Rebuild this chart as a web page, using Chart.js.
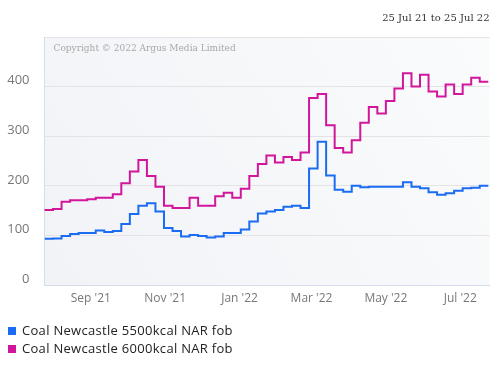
<!DOCTYPE html>
<html>
<head>
<meta charset="utf-8">
<script src="https://cdn.jsdelivr.net/npm/chart.js@4"></script>
<style>
  html, body { margin: 0; padding: 0; background: #fff; }
  #wrap { position: relative; width: 500px; height: 377px; }
</style>
</head>
<body>
<div id="wrap"><canvas id="chart"></canvas></div>
<script>
const rangeLabel = "25 Jul 21 to 25 Jul 22";
const copyrightText = "Copyright \u00a9 2022 Argus Media Limited";
const seriesNames = ["Coal Newcastle 5500kcal NAR fob", "Coal Newcastle 6000kcal NAR fob"];
const seriesColors = ["#1a6cf2", "#d1169b"];

// weekly assessments starting 25 Jul 2021 ($/t)
const nar5500 = [93, 93, 94, 99, 103, 105, 105, 110, 107, 109, 123, 143, 160, 165, 148, 115, 109, 98,
  101, 99, 96, 98, 105, 105, 112, 128, 144, 148, 151, 158, 160, 155, 235, 289, 221, 192, 188, 200,
  197, 198, 198, 198, 198, 207, 198, 195, 187, 182, 185, 190, 195, 196, 200];
const nar6000 = [150, 151, 153, 168, 171, 171, 173, 176, 176, 183, 205, 229, 252, 220, 198, 160, 155, 155,
  176, 160, 160, 179, 186, 176, 194, 220, 244, 261, 247, 258, 252, 267, 377, 385, 322, 276, 267, 292,
  327, 359, 346, 371, 396, 427, 400, 424, 390, 380, 404, 385, 404, 418, 410];

const startDate = "2021-07-25";
const endDate = "2022-07-25";
const xTickDates = ["2021-09-01", "2021-11-01", "2022-01-01", "2022-03-01", "2022-05-01", "2022-07-01"];
const xTickLabels = ["Sep '21", "Nov '21", "Jan '22", "Mar '22", "May '22", "Jul '22"];
const yTickValues = [0, 100, 200, 300, 400, 500];
const yTickLabels = ["0", "100", "200", "300", "400", ""];

const DAY = 86400000;
const dayOf = (s) => Math.round((Date.parse(s) - Date.parse(startDate)) / DAY);
const weekDays = nar5500.map((_, i) => i * 7);
const xTickDays = xTickDates.map(dayOf);

const toPoints = (vals) => vals.map((v, i) => ({ x: weekDays[i], y: v }));

const sans = "'Open Sans', sans-serif";
const serif = "'DejaVu Serif', serif";

const decor = {
  id: "decor",
  beforeDraw(chart) {
    const { ctx, chartArea: a } = chart;
    const g = ctx.createLinearGradient(a.left, a.bottom, a.right, a.top);
    g.addColorStop(0, "#f2f3f7");
    g.addColorStop(1, "#fafbfc");
    ctx.save();
    ctx.fillStyle = g;
    ctx.fillRect(a.left, a.top, a.right - a.left, a.bottom - a.top);
    ctx.restore();
  },
  beforeDatasetsDraw(chart) {
    const { ctx, chartArea: a } = chart;
    ctx.save();
    ctx.font = "9px " + serif;
    ctx.fillStyle = "#a8a8a8";
    ctx.textBaseline = "middle";
    ctx.fillText(copyrightText, a.left + 9, a.top + 12);
    ctx.restore();
  },
  afterDraw(chart) {
    const { ctx, chartArea: a } = chart;
    ctx.save();
    ctx.font = "10px " + serif;
    ctx.fillStyle = "#333";
    ctx.textAlign = "right";
    ctx.textBaseline = "middle";
    ctx.fillText(rangeLabel, a.right, 18);

    ctx.textAlign = "left";
    ctx.font = "13px " + sans;
    ctx.letterSpacing = "0.3px";
    chart.data.datasets.forEach((ds, i) => {
      const y = 331 + i * 18;
      ctx.fillStyle = ds.borderColor;
      ctx.fillRect(8, y - 4, 8, 8);
      ctx.fillStyle = "#222";
      ctx.fillText(ds.label, 22, y);
    });
    ctx.restore();
  }
};

new Chart(document.getElementById("chart"), {
  type: "line",
  data: {
    datasets: [
      { label: seriesNames[0], data: toPoints(nar5500), borderColor: seriesColors[0], backgroundColor: seriesColors[0] },
      { label: seriesNames[1], data: toPoints(nar6000), borderColor: seriesColors[1], backgroundColor: seriesColors[1] }
    ]
  },
  options: {
    responsive: true,
    maintainAspectRatio: false,
    animation: false,
    layout: { padding: { top: 37, right: 10.5, left: 0, bottom: 67 } },
    elements: {
      line: { borderWidth: 2, stepped: "after", tension: 0 },
      point: { radius: 0 }
    },
    plugins: {
      legend: { display: false },
      tooltip: { enabled: false }
    },
    scales: {
      x: {
        type: "linear",
        min: 0,
        max: dayOf(endDate),
        afterBuildTicks: (scale) => { scale.ticks = xTickDays.map((v) => ({ value: v })); },
        afterFit: (scale) => { scale.height = 25; },
        grid: { display: false },
        border: { display: true, color: "#d4ddec", width: 1 },
        ticks: {
          padding: -2,
          maxRotation: 0,
          autoSkip: false,
          color: "#777",
          font: { family: sans, size: 12 },
          callback: (v) => xTickLabels[xTickDays.indexOf(v)]
        }
      },
      y: {
        min: 0,
        max: 500,
        afterBuildTicks: (scale) => { scale.ticks = yTickValues.map((v) => ({ value: v })); },
        afterFit: (scale) => { scale.width = 44.5; },
        grid: {
          drawTicks: false,
          color: (c) => (c.tick && c.tick.value === 0 ? "rgba(0,0,0,0)" : "#e3e3e5"),
          lineWidth: 1
        },
        border: { display: true, color: "#d4ddec", width: 1 },
        ticks: {
          padding: 15,
          labelOffset: -6,
          color: "#777",
          font: { family: sans, size: 13 },
          callback: (v) => yTickLabels[yTickValues.indexOf(v)]
        }
      }
    }
  },
  plugins: [decor]
});
</script>
</body>
</html>
